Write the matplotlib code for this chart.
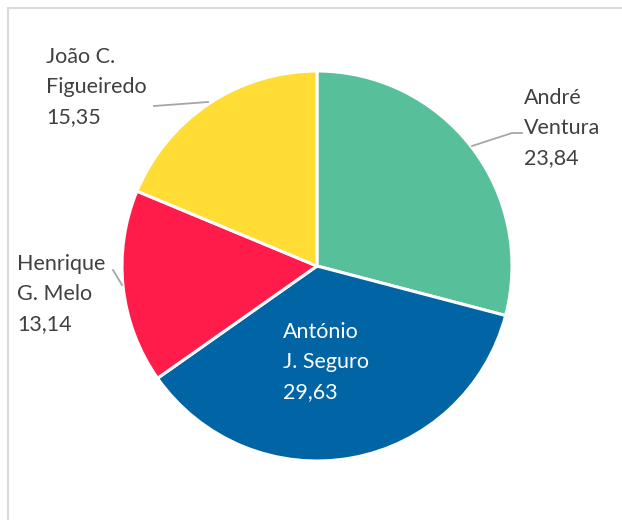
import matplotlib
matplotlib.use("Agg")
import matplotlib.pyplot as plt
from matplotlib.patches import Rectangle

names = ["André\nVentura", "António\nJ. Seguro", "Henrique\nG. Melo", "João C.\nFigueiredo"]
values = [23.84, 29.63, 13.14, 15.35]
colors = ["#57BF99", "#0064A5", "#FF1C4A", "#FFDD35"]

W, H = 622, 520
fig = plt.figure(figsize=(W / 100, H / 100), dpi=100)
ax = fig.add_axes([0, 0, 1, 1])
ax.set_xlim(0, W)
ax.set_ylim(0, H)
ax.set_aspect("equal")
ax.axis("off")

# frame
ax.add_patch(Rectangle((7.5, -20), 700, H - 8 + 20, fill=False,
                       edgecolor="#d9d9d9", lw=1.5))

cx, cy, r = 317, H - 266, 195
ax.pie(values, colors=colors, startangle=90, counterclock=False,
       center=(cx, cy), radius=r, frame=True,
       wedgeprops=dict(edgecolor="white", linewidth=2.2))
ax.set_xlim(0, W)
ax.set_ylim(0, H)
ax.axis("off")

fmt = lambda v: f"{v:.2f}".replace(".", ",")
font = dict(family=["Lato", "DejaVu Sans"], fontsize=15.5, linespacing=1.6)

labels_pos = [
    (524, 128, "left", "#404040"),
    (283, 362, "left", "white"),
    (17, 294, "left", "#404040"),
    (46, 87, "left", "#404040"),
]
for name, v, (x, y, ha, c) in zip(names, values, labels_pos):
    ax.text(x, H - y, f"{name}\n{fmt(v)}", ha=ha, va="center", color=c, **font)

# leader lines
lc = "#a6a6a6"
ax.plot([472, 512, 522], [H - 146, H - 133, H - 133], color=lc, lw=1.3)
ax.plot([154, 208], [H - 106, H - 102], color=lc, lw=1.3)
ax.plot([113, 122], [H - 270, H - 285], color=lc, lw=1.3)

fig.savefig("out.png", dpi=100)
